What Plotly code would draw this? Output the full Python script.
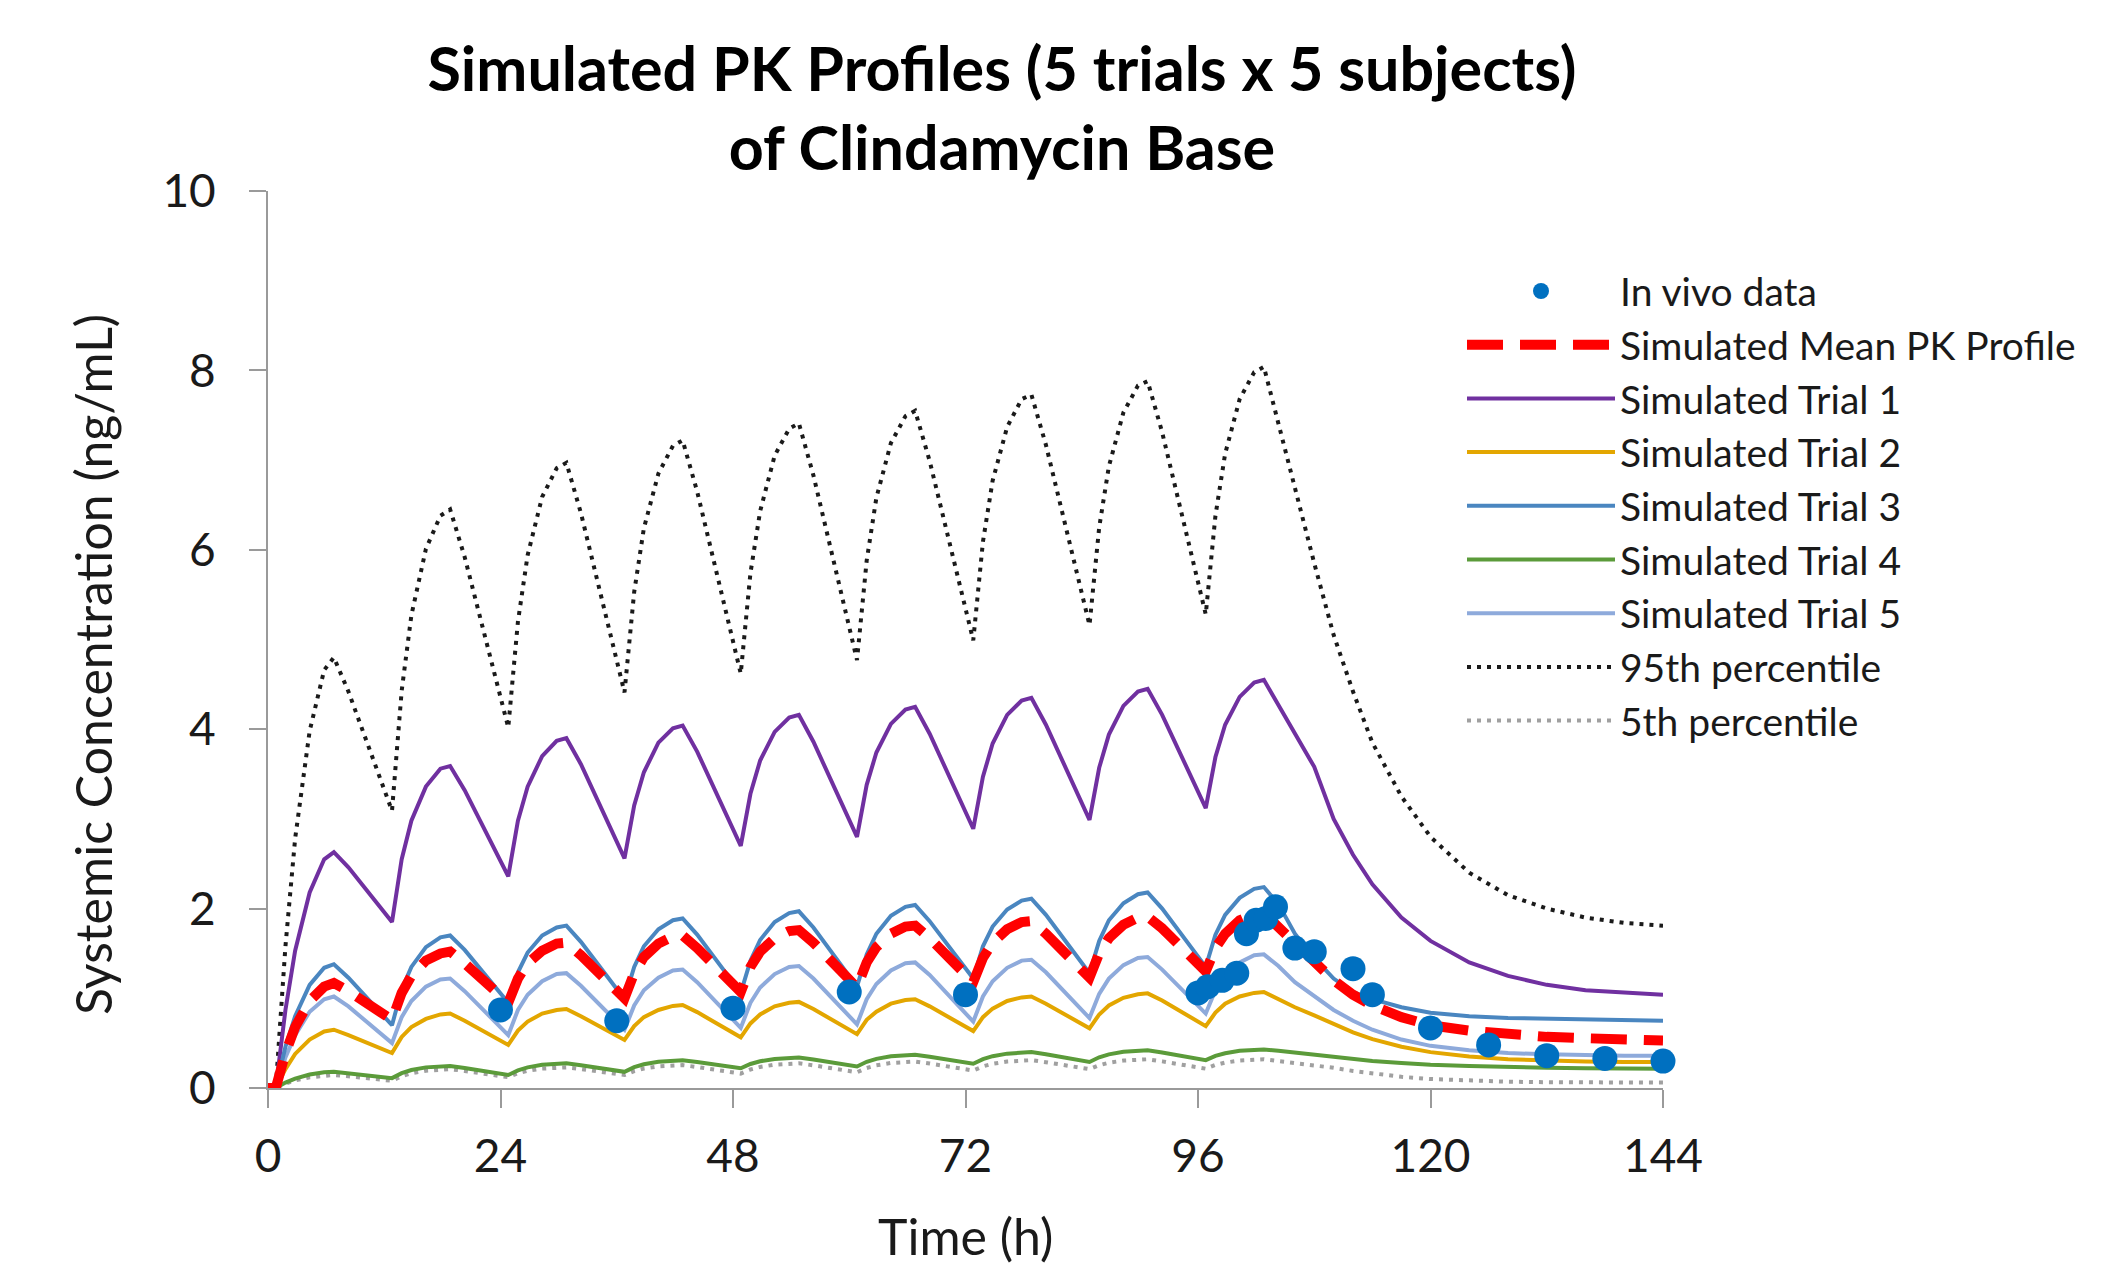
import plotly.graph_objects as go

# ---------------- data ----------------
time_h = [0, 0.8, 1.8, 2.8, 4.3, 5.8, 6.8, 8.3,
          12.8, 13.8, 14.8, 16.3, 17.8, 18.8, 20.3,
          24.8, 25.8, 26.8, 28.3, 29.8, 30.8, 32.3,
          36.8, 37.8, 38.8, 40.3, 41.8, 42.8, 44.3,
          48.8, 49.8, 50.8, 52.3, 53.8, 54.8, 56.3,
          60.8, 61.8, 62.8, 64.3, 65.8, 66.8, 68.3,
          72.8, 73.8, 74.8, 76.3, 77.8, 78.8, 80.3,
          84.8, 85.8, 86.8, 88.3, 89.8, 90.8, 92.3,
          96.8, 97.8, 98.8, 100.3, 101.8, 102.8, 104.3,
          106, 108, 110, 112, 114, 117, 120, 124, 128, 132, 136, 140, 144]

p95 = [0, 0, 1.58, 2.78, 3.98, 4.66, 4.80, 4.42,
       3.09, 4.43, 5.27, 6.01, 6.38, 6.45, 5.92,
       4.02, 5.20, 5.94, 6.59, 6.91, 6.97, 6.41,
       4.41, 5.53, 6.24, 6.85, 7.16, 7.22, 6.65,
       4.62, 5.74, 6.43, 7.05, 7.35, 7.41, 6.83,
       4.77, 5.88, 6.58, 7.19, 7.49, 7.55, 6.99,
       4.99, 6.09, 6.77, 7.37, 7.68, 7.73, 7.17,
       5.16, 6.25, 6.93, 7.53, 7.83, 7.88, 7.31,
       5.28, 6.38, 7.07, 7.68, 7.98, 8.04, 7.40,
       6.70, 5.85, 5.05, 4.42, 3.85, 3.25, 2.80, 2.40, 2.15, 2.00, 1.90, 1.84, 1.81]

trial1 = [0, 0, 0.87, 1.53, 2.18, 2.55, 2.63, 2.46,
          1.85, 2.55, 2.98, 3.36, 3.56, 3.59, 3.32,
          2.36, 2.98, 3.36, 3.70, 3.87, 3.90, 3.61,
          2.56, 3.15, 3.52, 3.85, 4.01, 4.04, 3.75,
          2.70, 3.28, 3.65, 3.97, 4.13, 4.16, 3.86,
          2.80, 3.38, 3.74, 4.06, 4.22, 4.25, 3.95,
          2.89, 3.47, 3.84, 4.16, 4.32, 4.35, 4.05,
          2.99, 3.57, 3.94, 4.26, 4.42, 4.45, 4.16,
          3.12, 3.69, 4.05, 4.36, 4.52, 4.55, 4.27,
          3.95, 3.58, 3.00, 2.60, 2.27, 1.90, 1.64, 1.40, 1.25, 1.15, 1.09, 1.06, 1.04]

trial3 = [0, 0, 0.46, 0.80, 1.15, 1.34, 1.38, 1.23,
          0.70, 1.10, 1.35, 1.57, 1.68, 1.70, 1.54,
          0.95, 1.29, 1.51, 1.70, 1.79, 1.81, 1.63,
          0.99, 1.35, 1.58, 1.77, 1.87, 1.89, 1.71,
          1.06, 1.42, 1.65, 1.85, 1.95, 1.97, 1.79,
          1.13, 1.49, 1.72, 1.92, 2.02, 2.04, 1.86,
          1.22, 1.58, 1.80, 1.99, 2.09, 2.11, 1.93,
          1.28, 1.64, 1.87, 2.06, 2.16, 2.18, 2.00,
          1.35, 1.71, 1.93, 2.12, 2.22, 2.24, 2.05,
          1.72, 1.45, 1.22, 1.07, 0.99, 0.90, 0.84, 0.80, 0.78, 0.77, 0.76, 0.755, 0.75]

mean_pk = [0, 0, 0.39, 0.68, 0.97, 1.13, 1.17, 1.08,
           0.76, 1.06, 1.25, 1.42, 1.50, 1.52, 1.39,
           0.95, 1.22, 1.39, 1.53, 1.61, 1.62, 1.48,
           1.00, 1.28, 1.46, 1.61, 1.69, 1.70, 1.56,
           1.07, 1.35, 1.52, 1.67, 1.75, 1.76, 1.62,
           1.12, 1.40, 1.57, 1.72, 1.80, 1.81, 1.67,
           1.18, 1.45, 1.62, 1.77, 1.85, 1.86, 1.72,
           1.23, 1.50, 1.67, 1.82, 1.90, 1.91, 1.78,
           1.30, 1.56, 1.72, 1.87, 1.94, 1.95, 1.80,
           1.62, 1.40, 1.20, 1.04, 0.92, 0.79, 0.70, 0.64, 0.60, 0.57, 0.555, 0.54, 0.53]

trial5 = [0, 0, 0.34, 0.59, 0.85, 0.99, 1.02, 0.91,
          0.50, 0.79, 0.97, 1.13, 1.21, 1.22, 1.08,
          0.59, 0.87, 1.04, 1.19, 1.27, 1.28, 1.14,
          0.65, 0.92, 1.09, 1.23, 1.31, 1.32, 1.18,
          0.67, 0.95, 1.12, 1.27, 1.35, 1.36, 1.22,
          0.71, 0.99, 1.16, 1.31, 1.39, 1.40, 1.26,
          0.74, 1.02, 1.19, 1.34, 1.42, 1.43, 1.29,
          0.78, 1.05, 1.22, 1.37, 1.45, 1.46, 1.32,
          0.83, 1.09, 1.26, 1.40, 1.48, 1.49, 1.36,
          1.18, 1.02, 0.87, 0.75, 0.65, 0.54, 0.47, 0.42, 0.39, 0.375, 0.365, 0.36, 0.36]

trial2 = [0, 0, 0.21, 0.38, 0.54, 0.63, 0.65, 0.59,
          0.39, 0.57, 0.68, 0.77, 0.82, 0.83, 0.75,
          0.48, 0.64, 0.74, 0.83, 0.87, 0.88, 0.80,
          0.535, 0.69, 0.79, 0.87, 0.915, 0.925, 0.846,
          0.565, 0.72, 0.82, 0.91, 0.95, 0.96, 0.88,
          0.60, 0.76, 0.85, 0.94, 0.98, 0.99, 0.91,
          0.635, 0.79, 0.885, 0.97, 1.01, 1.02, 0.94,
          0.665, 0.82, 0.92, 1.005, 1.045, 1.055, 0.975,
          0.69, 0.84, 0.94, 1.02, 1.06, 1.07, 0.99,
          0.90, 0.81, 0.72, 0.62, 0.545, 0.46, 0.40, 0.35, 0.32, 0.305, 0.295, 0.29, 0.29]

trial4 = [0, 0, 0.06, 0.105, 0.15, 0.175, 0.18, 0.165,
          0.11, 0.165, 0.20, 0.23, 0.24, 0.245, 0.223,
          0.145, 0.197, 0.23, 0.258, 0.272, 0.275, 0.254,
          0.18, 0.232, 0.265, 0.293, 0.307, 0.31, 0.29,
          0.22, 0.268, 0.298, 0.324, 0.338, 0.34, 0.318,
          0.24, 0.292, 0.325, 0.353, 0.367, 0.37, 0.348,
          0.27, 0.322, 0.355, 0.383, 0.397, 0.40, 0.376,
          0.29, 0.342, 0.375, 0.403, 0.417, 0.42, 0.396,
          0.31, 0.358, 0.388, 0.414, 0.428, 0.43, 0.415,
          0.395, 0.37, 0.345, 0.32, 0.30, 0.28, 0.26, 0.245, 0.23, 0.225, 0.22, 0.215, 0.215]

p5 = [0, 0, 0.048, 0.084, 0.12, 0.14, 0.145, 0.131,
      0.08, 0.132, 0.165, 0.193, 0.207, 0.21, 0.19,
      0.12, 0.164, 0.192, 0.216, 0.228, 0.23, 0.211,
      0.145, 0.189, 0.217, 0.241, 0.253, 0.255, 0.234,
      0.16, 0.206, 0.235, 0.26, 0.273, 0.275, 0.253,
      0.175, 0.223, 0.253, 0.279, 0.293, 0.295, 0.273,
      0.195, 0.241, 0.27, 0.295, 0.308, 0.31, 0.288,
      0.21, 0.254, 0.282, 0.306, 0.318, 0.32, 0.297,
      0.215, 0.257, 0.283, 0.306, 0.318, 0.32, 0.30,
      0.28, 0.255, 0.225, 0.19, 0.16, 0.125, 0.10, 0.08, 0.07, 0.065, 0.062, 0.06, 0.06]

invivo_t = [24, 36, 48, 60, 72, 96, 97, 98.5, 100, 101, 102, 103, 104,
            106, 108, 112, 114, 120, 126, 132, 138, 144]
invivo_c = [0.87, 0.75, 0.89, 1.07, 1.04, 1.06, 1.13, 1.20, 1.28, 1.72, 1.87, 1.89, 2.02,
            1.56, 1.52, 1.33, 1.04, 0.67, 0.48, 0.36, 0.33, 0.30]

x_ticks = [0, 24, 48, 72, 96, 120, 144]
y_ticks = [0, 2, 4, 6, 8, 10]

FONT = "Lato"
TXT = "#1a1a1a"
AX = "#9a9a9a"

fig = go.Figure()

def line_trace(name, y, color, width, dash="solid", rank=1):
    fig.add_trace(go.Scatter(
        x=time_h, y=y, mode="lines", name=name,
        line=dict(color=color, width=width, dash=dash),
        legendgroup=name, legendrank=rank, hoverinfo="skip"))

line_trace("5th percentile", p5, "#a0a0a0", 4, "4px,6px", 9)
line_trace("95th percentile", p95, "#1a1a1a", 4, "4px,6px", 8)
line_trace("Simulated Trial 5", trial5, "#8eaadb", 4, rank=7)
line_trace("Simulated Trial 4", trial4, "#5b9b3a", 4, rank=6)
line_trace("Simulated Trial 2", trial2, "#e3a600", 4, rank=4)
line_trace("Simulated Trial 1", trial1, "#7030a0", 4, rank=3)
line_trace("Simulated Trial 3", trial3, "#4a86c0", 4, rank=5)
line_trace("Simulated Mean PK Profile", mean_pk, "#ff0000", 10, "36px,17px", 2)

fig.add_trace(go.Scatter(
    x=invivo_t, y=invivo_c, mode="markers", name="In vivo data",
    marker=dict(color="#0070c0", size=25, line=dict(width=0)),
    legendgroup="In vivo data", legendrank=1, cliponaxis=False, hoverinfo="skip"))

# page body adds an 8px offset; compensate so the plot lands where the reference has it
OFF = 8
W, H = 2106, 1266
PL, PR, PT, PB = 268, 1663, 191, 1088      # visual plot-area edges in the reference
L, R, T, B = PL - OFF, W + OFF - PR, PT - OFF, H + OFF - PB
PW, PH = PR - PL, PB - PT

fig.update_layout(
    width=W, height=H,
    margin=dict(l=L, r=R, t=T, b=B, autoexpand=False),
    paper_bgcolor="white", plot_bgcolor="white",
    font=dict(family=FONT, color=TXT),
    title=dict(
        text="<b>Simulated PK Profiles (5 trials x 5 subjects)</b><br><b>of Clindamycin Base</b>",
        font=dict(family=FONT, size=61, color="#000000"),
        x=(1002 - OFF) / W, xanchor="center", xref="container",
        y=1 - 83 / H, yanchor="top", yref="container"),
    showlegend=True,
    legend=dict(
        x=(1462 - PL) / PW, xanchor="left", y=0.924, yanchor="top",
        font=dict(family=FONT, size=39, color=TXT),
        bgcolor="rgba(0,0,0,0)", tracegroupgap=0, itemwidth=148,
        traceorder="normal"),
    xaxis=dict(
        range=[0, 144], tickvals=x_ticks, ticktext=[str(v) for v in x_ticks],
        showline=True, linecolor=AX, linewidth=2, mirror=False,
        ticks="outside", ticklen=18, tickwidth=2, tickcolor=AX,
        showgrid=False, zeroline=False,
        tickfont=dict(family=FONT, size=46, color=TXT), ticklabelstandoff=9),
    yaxis=dict(
        range=[0, 10], tickvals=y_ticks, ticktext=[str(v) for v in y_ticks],
        showline=True, linecolor=AX, linewidth=2,
        ticks="outside", ticklen=17, tickwidth=2, tickcolor=AX,
        showgrid=False, zeroline=False,
        tickfont=dict(family=FONT, size=46, color=TXT), ticklabelstandoff=24),
    annotations=[
        dict(text="Systemic Concentration (ng/mL)", textangle=-90,
             xref="paper", yref="paper", x=(93 - PL) / PW, y=(PB - 665) / PH,
             xanchor="center", yanchor="middle", showarrow=False,
             font=dict(family=FONT, size=50, color=TXT)),
        dict(text="Time (h)", xref="paper", yref="paper",
             x=(965 - PL) / PW, y=(PB - 1236) / PH,
             xanchor="center", yanchor="middle", showarrow=False,
             font=dict(family=FONT, size=50, color=TXT)),
    ],
)

fig.write_html("out.html")
